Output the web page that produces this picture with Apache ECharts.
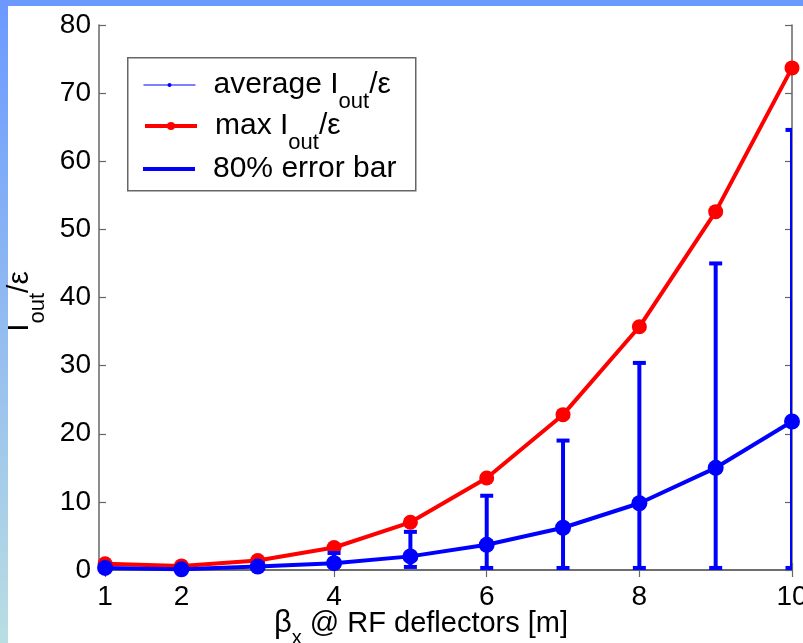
<!DOCTYPE html>
<html>
<head>
<meta charset="utf-8">
<script src="https://cdn.jsdelivr.net/npm/echarts@6/dist/echarts.min.js"></script>
<style>
  html, body { margin: 0; padding: 0; background: #ffffff; }
  #chart { width: 803px; height: 643px; }
</style>
</head>
<body>
<div id="chart"></div>
<script>
// Beam optics scan: output current over emittance vs beta_x at the RF deflectors
const betaX = [1, 2, 3, 4, 5, 6, 7, 8, 9, 10];
const maxRatio = [0.9, 0.6, 1.4, 3.3, 7.0, 13.5, 22.8, 35.7, 52.6, 73.7];
const avgRatio = [0.3, 0.1, 0.5, 1.0, 2.0, 3.7, 6.2, 9.8, 15.0, 21.8];
const errLow = [0.1, 0.05, 0.2, 0.6, 0.45, 0.3, 0.3, 0.3, 0.3, 0.3];
const errHigh = [0.6, 0.3, 1.0, 2.5, 5.6, 10.9, 19.0, 30.4, 45.0, 64.6];
const xTickValues = [1, 2, 4, 6, 8, 10];
const yTickValues = [0, 10, 20, 30, 40, 50, 60, 70, 80];

const FONT = '"Liberation Sans", Arial, Helvetica, sans-serif';
const BLUE = '#0000ff';
const RED = '#ff0000';
const AXIS = '#666666';

const chart = echarts.init(document.getElementById('chart'), null, { renderer: 'canvas' });

const maxData = betaX.map((x, i) => [x, maxRatio[i]]);
const avgData = betaX.map((x, i) => [x, avgRatio[i]]);
const errData = betaX.map((x, i) => [x, errLow[i], errHigh[i]]);

// Rich text pieces: main text and a lowered subscript, all top-aligned on one line
function richStyles(mainSize, subSize, subDrop) {
  return {
    m: { fontSize: mainSize, lineHeight: mainSize, fontFamily: FONT, color: '#000', verticalAlign: 'top' },
    s: { fontSize: subSize, lineHeight: mainSize, fontFamily: FONT, color: '#000', verticalAlign: 'top', padding: [subDrop, 0, 0, 0] }
  };
}

const legendText = {
  average: '{m|average I}{s|out}{m|/ε}',
  max: '{m|max I}{s|out}{m|/ε}',
  err: '{m|80% error bar}'
};

function oneLegend(name, top, extra) {
  return Object.assign({
    data: [name],
    orient: 'vertical',
    left: 143,
    top: top,
    padding: 0,
    itemWidth: 52,
    selectedMode: false,
    formatter: n => legendText[n],
    textStyle: { fontSize: 30, lineHeight: 30, fontFamily: FONT, color: '#000', padding: [0, 0, 0, 13], rich: richStyles(30, 22, 21) }
  }, extra);
}

const option = {
  animation: false,
  backgroundColor: '#ffffff',
  textStyle: { fontFamily: FONT },
  grid: { left: 99, top: 25, right: 11, bottom: 73, containLabel: false, outerBoundsMode: 'none' },
  graphic: [
    {
      type: 'rect', left: 0, top: 0, z: 0,
      shape: { width: 803, height: 6 },
      style: { fill: '#6b99ff' }
    },
    {
      type: 'rect', left: 0, top: 0, z: 0,
      shape: { width: 8, height: 643 },
      style: {
        fill: new echarts.graphic.LinearGradient(0, 0, 0, 1, [
          { offset: 0, color: '#6b99ff' },
          { offset: 1, color: '#b9dee2' }
        ])
      }
    },
    {
      type: 'rect', left: 127, top: 57, z: 1,
      shape: { width: 288, height: 133 },
      style: { fill: '#ffffff', stroke: AXIS, lineWidth: 1.5 }
    }
  ],
  legend: [
    oneLegend('average', 70, {
      itemHeight: 5,
      data: [{ name: 'average', lineStyle: { width: 1, color: BLUE }, itemStyle: { color: BLUE, borderWidth: 0 } }]
    }),
    oneLegend('max', 111, {
      itemHeight: 10,
      data: [{ name: 'max', lineStyle: { width: 4, color: RED }, itemStyle: { color: RED, borderWidth: 0 } }]
    }),
    oneLegend('err', 154, {
      itemHeight: 4,
      data: [{ name: 'err', icon: 'rect', itemStyle: { color: BLUE } }]
    })
  ],
  xAxis: [
    {
      type: 'value', min: 0.92, max: 10,
      name: '{b|β}{s|x}{m| @ RF deflectors [m]}',
      nameLocation: 'middle',
      nameGap: 39,
      nameMoveOverlap: false,
      nameTextStyle: {
        fontSize: 29, lineHeight: 29, fontFamily: FONT, color: '#000', padding: [0, 49, 0, 0],
        rich: Object.assign(richStyles(29, 20, 19), {
          b: { fontSize: 31, lineHeight: 29, fontFamily: FONT, color: '#000', verticalAlign: 'top', padding: [-1, 0, 0, 0] }
        })
      },
      axisLine: { show: true, lineStyle: { color: AXIS, width: 1.5 } },
      axisTick: { show: true, inside: true, length: 7, customValues: xTickValues, lineStyle: { color: AXIS, width: 1.2 } },
      axisLabel: { show: true, customValues: xTickValues, margin: 13, fontSize: 28, fontFamily: FONT, color: '#000' },
      splitLine: { show: false }
    },
    {
      type: 'value', min: 0.92, max: 10, position: 'top',
      axisLine: { show: true, lineStyle: { color: AXIS, width: 1.5 } },
      axisTick: { show: true, inside: true, length: 7, customValues: xTickValues, lineStyle: { color: AXIS, width: 1.2 } },
      axisLabel: { show: false },
      splitLine: { show: false }
    }
  ],
  yAxis: [
    {
      type: 'value', min: 0, max: 80, interval: 10,
      name: '{m|I}{s|out}{m|/ε}',
      nameLocation: 'middle',
      nameRotate: 90,
      nameGap: 64,
      nameMoveOverlap: false,
      nameTextStyle: {
        fontSize: 30, lineHeight: 30, fontFamily: FONT, color: '#000', padding: [0, 8, 0, 0],
        rich: richStyles(30, 22, 22)
      },
      axisLine: { show: true, lineStyle: { color: AXIS, width: 1.5 } },
      axisTick: { show: true, inside: true, length: 7, lineStyle: { color: AXIS, width: 1.2 } },
      axisLabel: { show: true, customValues: yTickValues, margin: 8, fontSize: 28, fontFamily: FONT, color: '#000' },
      splitLine: { show: false }
    },
    {
      type: 'value', min: 0, max: 80, interval: 10, position: 'right',
      axisLine: { show: true, lineStyle: { color: AXIS, width: 1.5 } },
      axisTick: { show: true, inside: true, length: 7, lineStyle: { color: AXIS, width: 1.2 } },
      axisLabel: { show: false },
      splitLine: { show: false }
    }
  ],
  series: [
    {
      name: 'max',
      type: 'line',
      xAxisIndex: 0, yAxisIndex: 0,
      data: maxData,
      symbol: 'circle',
      symbolSize: 15,
      lineStyle: { color: RED, width: 4 },
      itemStyle: { color: RED, borderWidth: 0 },
      z: 2
    },
    {
      name: 'err',
      type: 'custom',
      xAxisIndex: 0, yAxisIndex: 0,
      data: errData,
      encode: { x: 0, y: [1, 2] },
      clip: true,
      itemStyle: { color: BLUE },
      z: 3,
      renderItem: function (params, api) {
        const x = api.value(0);
        const lo = api.coord([x, api.value(1)]);
        const hi = api.coord([x, api.value(2)]);
        const half = 6.5;
        const style = { stroke: BLUE, lineWidth: 4, fill: null };
        return {
          type: 'group',
          children: [
            { type: 'line', shape: { x1: lo[0], y1: lo[1], x2: hi[0], y2: hi[1] }, style: style },
            { type: 'line', shape: { x1: lo[0] - half, y1: lo[1], x2: lo[0] + half, y2: lo[1] }, style: style },
            { type: 'line', shape: { x1: hi[0] - half, y1: hi[1], x2: hi[0] + half, y2: hi[1] }, style: style }
          ]
        };
      }
    },
    {
      name: 'average',
      type: 'line',
      xAxisIndex: 0, yAxisIndex: 0,
      data: avgData,
      symbol: 'circle',
      symbolSize: 16,
      lineStyle: { color: BLUE, width: 4 },
      itemStyle: { color: BLUE, borderWidth: 0 },
      z: 4
    }
  ]
};

chart.setOption(option);
</script>
</body>
</html>
